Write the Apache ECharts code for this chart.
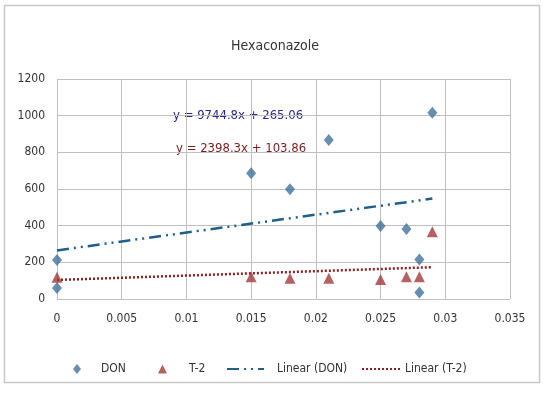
<!DOCTYPE html>
<html><head><meta charset="utf-8">
<script src="https://cdn.jsdelivr.net/npm/echarts@6/dist/echarts.min.js"></script>
<style>html,body{margin:0;padding:0;background:#fff}#c{width:550px;height:399px}</style>
</head><body><div id="c"></div>
<script>
const title = 'Hexaconazole';
const donX = [0, 0, 0.015, 0.018, 0.021, 0.025, 0.027, 0.028, 0.028, 0.029];
const donY = [213, 60, 686, 598, 867, 398, 382, 216, 36, 1016];
const t2X = [0, 0.015, 0.018, 0.021, 0.025, 0.027, 0.028, 0.029];
const t2Y = [118, 122, 113, 113, 107, 122, 122, 367];
const donFit = {slope: 9744.8, intercept: 265.06};
const t2Fit = {slope: 2398.3, intercept: 103.86};
const trendRange = [0, 0.029];
const eqDON = 'y = 9744.8x + 265.06';
const eqT2 = 'y = 2398.3x + 103.86';
const xTicks = ['0','0.005','0.01','0.015','0.02','0.025','0.03','0.035'];
const yTicks = ['0','200','400','600','800','1000','1200'];

const font = 'DejaVu Sans Condensed';
const pairs = (xs, ys) => xs.map((x, i) => [x, ys[i]]);
const fitLine = f => trendRange.map(x => [x, f.intercept + f.slope * x]);
const txt = {fontFamily: font, fontSize: 12, color: '#333'};
const legendTop = 358;

const chart = echarts.init(document.getElementById('c'));
chart.setOption({
  animation: false,
  title: {text: title, left: 'center', top: 34, textStyle: {fontFamily: font, fontSize: 14, fontWeight: 'normal', color: '#333'}},
  grid: {left: 57, right: 40, top: 79, bottom: 100},
  xAxis: {type: 'value', min: 0, max: 0.035, interval: 0.005,
    axisLine: {show: false}, axisTick: {show: false},
    splitLine: {lineStyle: {color: '#bfbfbf'}},
    axisLabel: Object.assign({margin: 14,
      formatter: v => xTicks[Math.round(v / 0.005)] ?? ''}, txt)},
  yAxis: {type: 'value', min: 0, max: 1200, interval: 200,
    axisLine: {show: false}, axisTick: {show: false},
    splitLine: {lineStyle: {color: '#bfbfbf'}},
    axisLabel: Object.assign({margin: 12,
      formatter: v => yTicks[Math.round(v / 200)] ?? ''}, txt)},
  legend: [
    {left: 68, top: legendTop, itemWidth: 8, itemHeight: 10, textStyle: Object.assign({padding: [0,0,0,15]}, txt),
      data: [{name: 'DON', icon: 'diamond'}]},
    {left: 153, top: legendTop, itemWidth: 9, itemHeight: 9, textStyle: Object.assign({padding: [0,0,0,17]}, txt),
      data: [{name: 'T-2', icon: 'triangle'}]},
    {left: 221, top: legendTop, itemWidth: 37, itemHeight: 10, textStyle: Object.assign({padding: [0,0,0,8]}, txt),
      itemStyle: {opacity: 0},
      data: [{name: 'Linear (DON)'}]},
    {left: 356, top: legendTop, itemWidth: 38, itemHeight: 10, textStyle: Object.assign({padding: [0,0,0,0]}, txt),
      itemStyle: {opacity: 0},
      data: [{name: 'Linear (T-2)'}]}
  ],
  graphic: [
    {type: 'rect', shape: {x: 4.5, y: 5.5, width: 535, height: 377}, style: {fill: 'none', stroke: '#c8c8c8', lineWidth: 1.5}, silent: true},
    {type: 'text', left: 173, top: 109, style: {text: eqDON, font: '13px "' + font + '"', fill: '#25258f'}},
    {type: 'text', left: 176, top: 142, style: {text: eqT2, font: '13px "' + font + '"', fill: '#7a1c1c'}}
  ],
  series: [
    {name: 'Linear (DON)', type: 'line', data: fitLine(donFit), symbol: 'none', z: 2,
      lineStyle: {color: '#1f5f8b', width: 2.5, type: [12, 5, 2, 5, 2, 5]}, itemStyle: {color: '#1f5f8b'}},
    {name: 'Linear (T-2)', type: 'line', data: fitLine(t2Fit), symbol: 'none', z: 2,
      lineStyle: {color: '#8b1f1f', width: 2.5, type: [2, 2]}, itemStyle: {color: '#8b1f1f'}},
    {name: 'DON', type: 'scatter', data: pairs(donX, donY), symbol: 'diamond', symbolSize: [10, 12], z: 3,
      itemStyle: {color: '#41719c'}},
    {name: 'T-2', type: 'scatter', data: pairs(t2X, t2Y), symbol: 'triangle', symbolSize: [11, 11], z: 3,
      itemStyle: {color: '#a33a3a'}}
  ]
});
</script></body></html>
